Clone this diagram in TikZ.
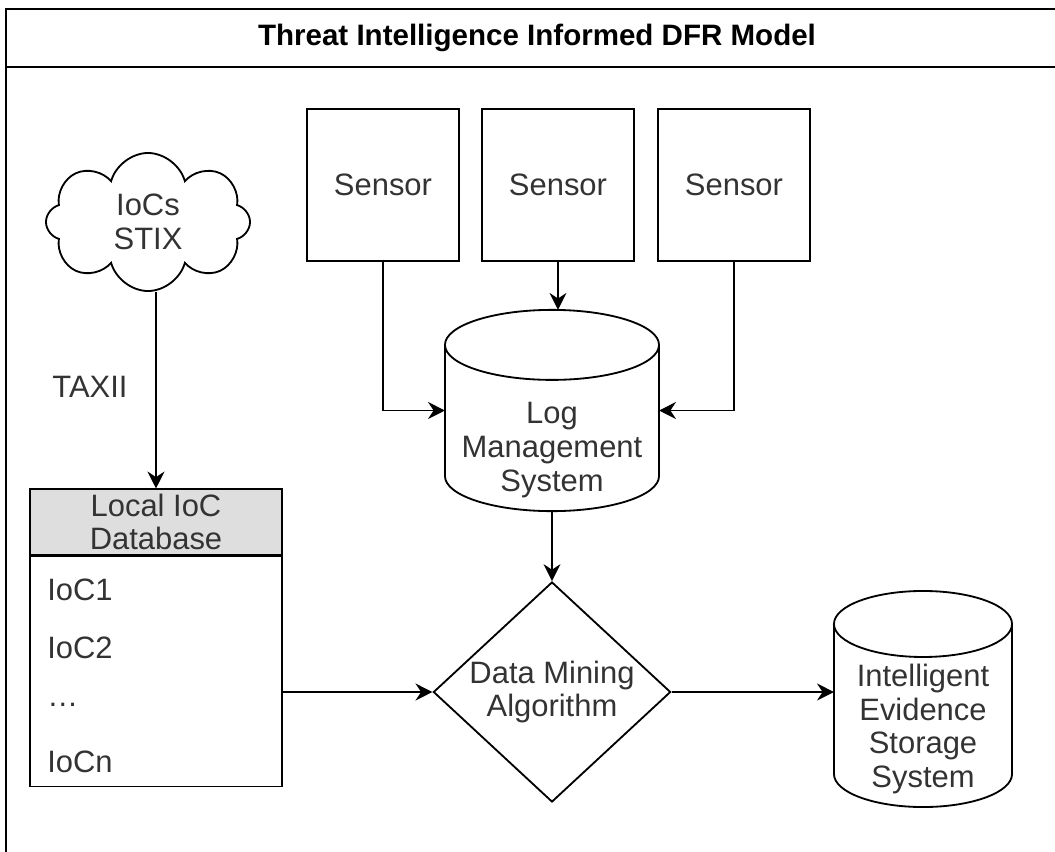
\documentclass[tikz,border=0pt]{standalone}
\usepackage{fontspec}
\setmainfont{Liberation Sans}
\usetikzlibrary{shapes.geometric, shapes.symbols, arrows.meta, positioning}

% cylinder outline round a (hidden) node: name, half width, cap radius
\newcommand{\cylinderat}[3]{%
    \draw[line width=1.3pt] ([yshift=-#3]#1.north west) -- ([yshift=#3]#1.south west)
        arc[start angle=180, end angle=360, x radius=#2, y radius=#3]
        -- ([yshift=-#3]#1.north east)
        arc[start angle=0, end angle=180, x radius=#2, y radius=#3] -- cycle;
    \draw[line width=1.3pt] ([yshift=-#3]#1.north west)
        arc[start angle=180, end angle=360, x radius=#2, y radius=#3];
}

\tikzset{
    box/.style={draw, line width=1.3pt, minimum width=3.78cm, minimum height=3.8cm},
    storebox/.style={inner sep=0pt, outer sep=0pt},
    conn/.style={-{Stealth[length=12pt,width=12pt]}, line width=1.3pt},
}

\begin{document}
\begin{tikzpicture}[x=0.025cm, y=-0.025cm,
    every node/.style={font=\fontsize{22}{24}\selectfont, text=black!80}]
    \useasboundingbox (0,0) rectangle (1055,851);
    \clip (0,0) rectangle (1055,851);
    % frame and title
    \draw[line width=1.4pt] (6,900) -- (6,9) -- (1100,9);
    \draw[line width=1.4pt] (6,67) -- (1100,67);
    \node[text=black, font=\fontsize{21}{24}\selectfont\bfseries] (title) at (537,38) {Threat Intelligence Informed DFR Model};

    % threat feed
    \node[cloud, draw, line width=1.3pt, cloud puffs=8, aspect=1.5, minimum width=5.1cm, minimum height=3.45cm, align=center] (feed) at (148,222) {IoCs\\STIX};
    \node (taxii) at (90,387) {TAXII};
    \node[draw, line width=1.3pt, fill=black!13, minimum width=6.3cm, minimum height=1.63cm, align=center, inner sep=0pt] (dbhead) at (156,522) {Local IoC\\Database};
    \node[draw, line width=1.3pt, minimum width=6.3cm, minimum height=5.75cm, below=0pt of dbhead] (dbbody) {};
    \foreach \y/\t/\n in {590/IoC1/1, 648/IoC2/2, 705/{\ldots}/3, 762/IoCn/4} {
        \node[anchor=west, inner sep=0pt] (ioc\n) at (47,\y) {\t};
    }

    % sensors
    \foreach \x/\n in {383/1, 558/2, 734/3} {
        \node[box] (s\n) at (\x,185) {Sensor};
    }

    % log store
    \node[storebox, minimum width=5.35cm, minimum height=5.03cm] (lms) at (552,410.5) {};
    \cylinderat{lms}{2.675cm}{0.875cm}
    \node[align=center] (lmstext) at (552,450) {Log\\Management\\System};

    \node[diamond, draw, line width=1.3pt, aspect=1.08, inner sep=0pt, minimum width=5.93cm, minimum height=5.5cm, align=center] (dm) at (552,692) {Data Mining\\Algorithm};

    % evidence store
    \node[storebox, minimum width=4.45cm, minimum height=5.4cm] (ies) at (923,699) {};
    \cylinderat{ies}{2.225cm}{0.825cm}
    \node[align=center] (iestext) at (923,729) {Intelligent\\Evidence\\Storage\\System};

    % connectors
    \draw[conn] (feed.south -| dbhead.north) -- (dbhead.north);
    \draw[conn] (s1.south) |- (lms.west);
    \draw[conn] (s2.south) -- (s2.south |- lms.north);
    \draw[conn] (s3.south) |- (lms.east);
    \draw[conn] (lms.south) -- (dm.north);
    \draw[conn] (dbbody.east |- dm.west) -- (dm.west);
    \draw[conn] (dm.east) -- (dm.east -| ies.west);
\end{tikzpicture}
\end{document}
